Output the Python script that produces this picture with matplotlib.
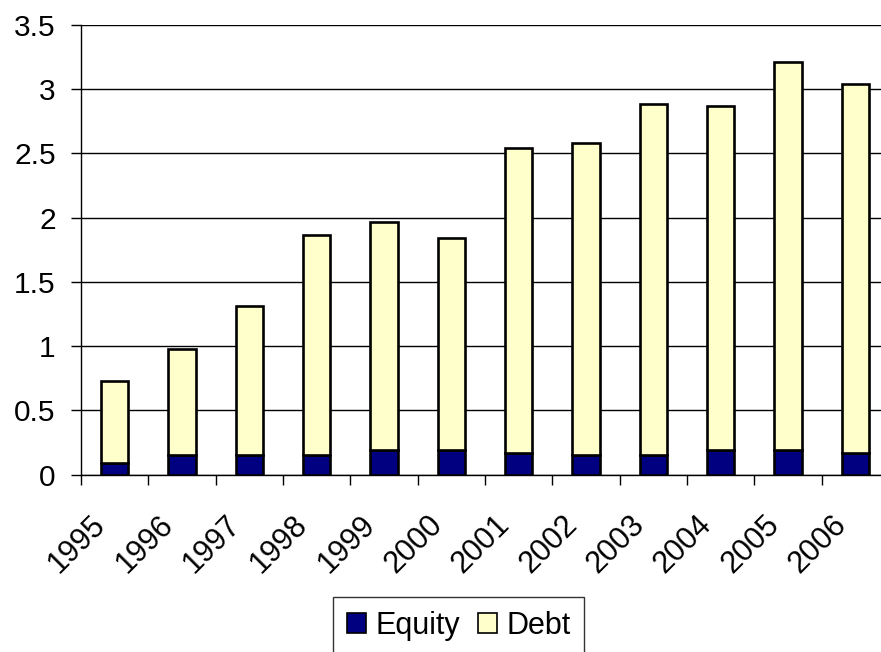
import matplotlib
matplotlib.use("Agg")
import matplotlib.pyplot as plt
import numpy as np

years = ["1995", "1996", "1997", "1998", "1999", "2000",
         "2001", "2002", "2003", "2004", "2005", "2006"]
equity = [0.09, 0.15, 0.15, 0.15, 0.19, 0.19, 0.17, 0.15, 0.15, 0.19, 0.19, 0.17]
total = [0.73, 0.98, 1.31, 1.865, 1.965, 1.845, 2.54, 2.58, 2.885, 2.87, 3.21, 3.04]
debt = [t - e for t, e in zip(total, equity)]
yticks = [0, 0.5, 1, 1.5, 2, 2.5, 3, 3.5]
ytick_labels = ["0", "0.5", "1", "1.5", "2", "2.5", "3", "3.5"]

plt.rcParams['font.family'] = ['Liberation Sans', 'DejaVu Sans']

fig = plt.figure(figsize=(8.81, 6.52), dpi=100)
ax = fig.add_axes([81/881, 1 - 474.7/652, (889 - 81)/881, (474.7 - 25)/652])

x = np.arange(len(years))
w = 0.41
ax.bar(x, equity, width=w, color="#000080", edgecolor="black", linewidth=1.9,
       label="Equity", zorder=3)
ax.bar(x, debt, width=w, bottom=equity, color="#FFFFCC", edgecolor="black",
       linewidth=1.9, label="Debt", zorder=3)

ax.set_xlim(-0.5, len(years) - 0.5)
ax.set_ylim(0, 3.5)
ax.set_yticks(yticks)
ax.set_yticklabels(ytick_labels, fontsize=21.5)
ax.yaxis.grid(True, color="black", linewidth=1.0, zorder=0)
ax.set_axisbelow(True)

# rotated category labels, anchored slightly left of each bar centre
ax.set_xticks(x - 0.2)
ax.set_xticklabels(years, fontsize=22, rotation=45, ha="right", va="center",
                   rotation_mode="anchor")
ax.set_xticks(np.arange(-0.5, len(years) + 0.5, 1), minor=True)
ax.tick_params(axis="x", which="major", length=0, pad=33)
ax.tick_params(axis="x", which="minor", length=7.2, width=1, direction="out")
ax.tick_params(axis="y", length=7.2, width=1, direction="out", pad=11)

for s in ["top", "right"]:
    ax.spines[s].set_visible(False)
for s in ["left", "bottom"]:
    ax.spines[s].set_color("black")
    ax.spines[s].set_linewidth(1.0)

leg = fig.legend(loc="center", bbox_to_anchor=(458.8/881, 1 - 626/652),
                 ncol=2, fontsize=22, frameon=True, fancybox=False,
                 handlelength=0.62, handleheight=0.62, handletextpad=0.3,
                 columnspacing=0.6, borderpad=0.45, borderaxespad=0)
leg.get_frame().set_edgecolor("black")
leg.get_frame().set_linewidth(1.0)
for h in leg.legend_handles:
    h.set_linewidth(1.2)

fig.savefig("out.png", dpi=100)
